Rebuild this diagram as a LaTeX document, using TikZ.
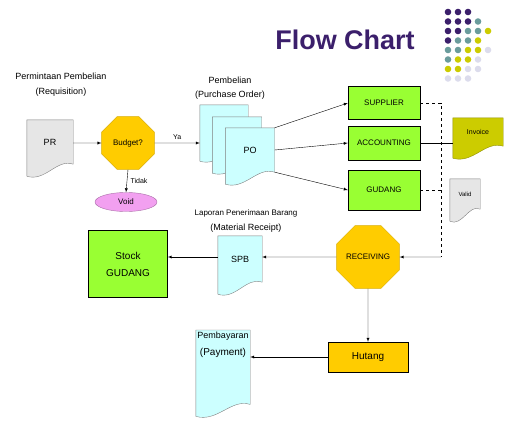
\documentclass[tikz,border=0pt]{standalone}
\usepackage{fontspec}
\setmainfont{Liberation Sans}
\usetikzlibrary{positioning,calc,shapes.geometric,arrows}

\definecolor{fcyellow}{HTML}{FFCC00}
\definecolor{fcgreen}{HTML}{99FF33}
\definecolor{fccyan}{HTML}{CCFFFF}
\definecolor{fcpink}{HTML}{F2A0F0}
\definecolor{fcolive}{HTML}{CCCC00}
\definecolor{fcgray}{HTML}{E6E6E6}
\definecolor{fcpurple}{HTML}{3B1F6B}
\definecolor{fcteal}{HTML}{6A9C9C}
\definecolor{fclav}{HTML}{DCDCEC}

\tikzset{
	doc/.style={inner sep=1pt,font=\fontsize{9}{10}\selectfont},
	octa/.style={regular polygon,regular polygon sides=8,inner sep=0pt,fill=fcyellow,draw=fcyellow!85!black,font=\fontsize{8}{9}\selectfont},
	greenbox/.style={rectangle,fill=fcgreen,draw=black,minimum width=72pt,font=\fontsize{8}{9}\selectfont},
	lbl/.style={font=\fontsize{9}{10}\selectfont,inner sep=1pt},
	link/.style={-latex,thin},
}

% document outline from the anchors of a node
\newcommand{\docpath}[3]{%
	\filldraw[fill=#2,draw=#3] (#1.north west) -- (#1.north east) -- (#1.south east)
		.. controls ($(#1.south east)!0.35!(#1.south west)+(0,-6)$) and ($(#1.south east)!0.6!(#1.south west)+(0,18)$) .. ($(#1.south west)+(0,12)$) -- cycle;
}

\begin{document}
\begin{tikzpicture}[x=1pt,y=-1pt]
		\useasboundingbox (0,0) rectangle (526,436);

		% title and dots
		\node[font=\bfseries\fontsize{27}{27}\selectfont,text=fcpurple] (title) at (345,40) {Flow Chart};
		\foreach \row/\cols in {0/{fcpurple,fcpurple,fcpurple},1/{fcpurple,fcpurple,fcpurple,fcteal},2/{fcpurple,fcpurple,fcteal,fcteal,fcolive},3/{fcpurple,fcteal,fcteal,fcolive},4/{fcteal,fcteal,fcolive,fcolive,fclav},5/{fcteal,fcolive,fcolive,fclav},6/{fcolive,fcolive,fclav,fclav},7/{fclav,fclav,fclav}}
			\foreach \c [count=\i from 0] in \cols
				\fill[\c] (448+10*\i,12+9.5*\row) circle (3.3);

		% requisition
		\node[lbl] (reqa) at (61,76) {Permintaan Pembelian};
		\node[lbl] (reqb) at (61,92) {(Requisition)};
		\node[doc,minimum width=46pt,minimum height=44pt] (pr) at (50,142) {};
		\docpath{pr}{fcgray}{gray}
		\node[doc] (prt) at (pr.center) {PR};

		\node[octa,minimum size=57pt] (budget) at (128,143) {Budget?};
		\node[ellipse,fill=fcpink,draw=fcpink!70!black,minimum width=62pt,minimum height=19pt,inner sep=0pt,font=\fontsize{8}{9}\selectfont] (void) at (126,202) {Void};

		\draw[link] (pr.east |- budget) -- (budget.west);
		\draw[link] (budget.south) -- node[right,font=\fontsize{7}{8}\selectfont] (tidak) {Tidak} (void.north);

		% purchase order
		\node[lbl] (poa) at (230,80) {Pembelian};
		\node[lbl] (pob) at (230,95) {(Purchase Order)};
		\node[doc,minimum width=48pt,minimum height=44pt] (po3) at (224,127) {};
		\node[doc,minimum width=49pt,minimum height=44pt] (po2) at (237,139) {};
		\node[doc,minimum width=49pt,minimum height=44pt] (po) at (250,150) {};
		\docpath{po3}{fccyan}{gray}
		\docpath{po2}{fccyan}{gray}
		\docpath{po}{fccyan}{gray}
		\node[doc] (pot) at (po.center) {PO};

		\draw[link] (budget.east) -- node[above,font=\fontsize{7}{8}\selectfont] (ya) {Ya} (po3.west |- budget);

		\node[greenbox,minimum height=33pt] (sup) at (384,103) {SUPPLIER};
		\node[greenbox,minimum height=34pt] (acc) at (384,143) {ACCOUNTING};
		\node[greenbox,minimum height=40pt] (gud) at (384,190) {GUDANG};

		\draw[link] (po.north east) -- (sup.west);
		\draw[link] (po.east) -- (acc.west);
		\draw[link] (po.south east) -- (gud.west);

		% documents on the right
		\node[doc,minimum width=50pt,minimum height=28pt] (inv) at (478,132) {};
		\docpath{inv}{fcolive}{fcolive!70!black}
		\node[doc,font=\fontsize{7}{8}\selectfont] (invt) at (inv.center) {Invoice};
		\node[doc,minimum width=30pt,minimum height=30pt] (sj) at (465,194) {};
		\docpath{sj}{fcgray}{gray}
		\node[doc,font=\fontsize{6}{7}\selectfont] (sjt) at (sj.center) {Valid};

		\coordinate (dtop) at (441,103);
		\coordinate (dbot) at (441,257);
		\draw[dashed] (sup.east) -- (dtop) -- (dbot);
		\draw[dashed] (gud.east) -- (gud.east -| dtop);
		\draw (acc.east) -- (inv.west |- acc);

		% receiving
		\node[octa,minimum size=68pt] (recv) at (368,257) {RECEIVING};
		\draw[link] (dbot) -- (recv.east);

		\node[lbl,font=\fontsize{8}{9}\selectfont] (spba) at (246,213) {Laporan Penerimaan Barang};
		\node[lbl] (spbb) at (246,228) {(Material Receipt)};
		\node[doc,minimum width=44pt,minimum height=46pt] (spb) at (240,259) {};
		\docpath{spb}{fccyan}{gray}
		\node[doc] (spbt) at (spb.center) {SPB};

		\node[rectangle,fill=fcgreen,draw=black,minimum width=79pt,minimum height=67pt,align=center,font=\fontsize{10}{17}\selectfont] (stock) at (128,264) {Stock\\GUDANG};

		\draw[link] (recv.west) -- (spb.east |- recv);
		\draw[link] (spb.west |- recv) -- (stock.east |- recv);

		% payment
		\node[rectangle,fill=fcyellow,draw=black,minimum width=80pt,minimum height=30pt,font=\fontsize{10}{11}\selectfont] (hut) at (368,357) {Hutang};
		\draw[link] (recv.south) -- (hut.north);

		\node[doc,minimum width=54pt,minimum height=74pt,anchor=north] (pay) at (223,330) {};
		\docpath{pay}{fccyan}{gray}
		\node[lbl,below=1pt of pay.north] (paya) {Pembayaran};
		\node[lbl,font=\fontsize{10}{11}\selectfont,below=5pt of paya] (payb) {(Payment)};
		\draw[link] (hut.west) -- (pay.east |- hut);
\end{tikzpicture}
\end{document}
